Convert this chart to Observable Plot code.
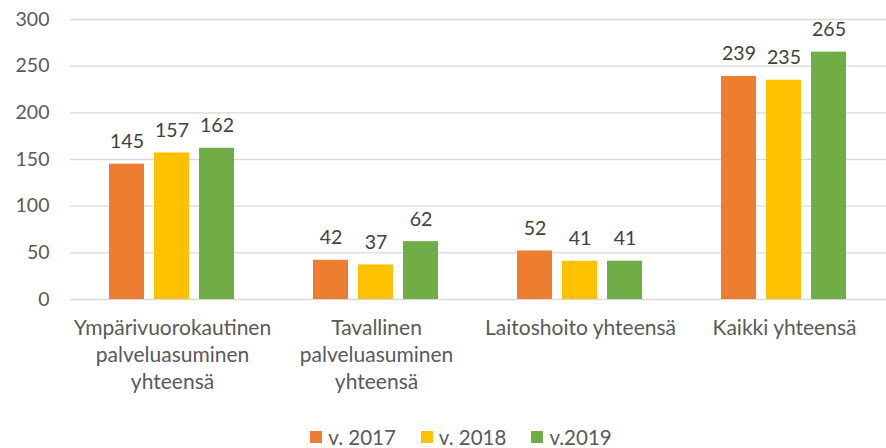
<!DOCTYPE html>
<html>
<head>
<meta charset="utf-8">
<script src="https://cdn.jsdelivr.net/npm/d3@7"></script>
<script src="https://cdn.jsdelivr.net/npm/@observablehq/plot@0.6"></script>
<style>
  html, body { margin: 0; padding: 0; background: #fff; }
  #chart { width: 886px; height: 448px; overflow: hidden; font-family: Lato, sans-serif; color: #595959; }
  .lg { display: flex; justify-content: center; margin-top: 14px; margin-left: 61px; font-size: 20.5px; color: #595959; font-family: Lato, sans-serif; }
  .lg .lg-swatch { margin-right: 25px !important; }
  .lg .lg-swatch svg { margin-right: 6px !important; }
</style>
</head>
<body>
<div id="chart"></div>
<script>
const categories = [
  "Ympärivuorokautinen\npalveluasuminen\nyhteensä",
  "Tavallinen\npalveluasuminen\nyhteensä",
  "Laitoshoito yhteensä",
  "Kaikki yhteensä"
];
const series = ["v. 2017", "v. 2018", "v.2019"];
const v2017 = [145, 42, 52, 239];
const v2018 = [157, 37, 41, 235];
const v2019 = [162, 62, 41, 265];
const yTicks = [0, 50, 100, 150, 200, 250, 300];
const colors = ["#ED7D31", "#FFC000", "#70AD47"];

const values = [v2017, v2018, v2019];
const data = [];
categories.forEach((c, i) => {
  series.forEach((s, j) => data.push({category: c, series: s, value: values[j][i]}));
});

const chart = Plot.plot({
  width: 886,
  height: 406,
  marginLeft: 70,
  marginRight: 0,
  marginTop: 19,
  marginBottom: 107,
  style: {fontFamily: "Lato, sans-serif", fontSize: "19px", color: "#595959", background: "#fff"},
  fx: {domain: categories, padding: 0, label: null, axis: null},
  x: {domain: series, paddingInner: 0.22, paddingOuter: 0.85, axis: null},
  y: {domain: [0, 300], label: null, axis: null},
  color: {domain: series, range: colors},
  marks: [
    Plot.ruleY(yTicks, {stroke: "#d9d9d9", strokeWidth: 1.3}),
    Plot.axisY({ticks: yTicks, tickSize: 0, tickPadding: 21, label: null, fill: "#595959", fontSize: 19.5, facetAnchor: "left"}),
    Plot.barY(data, {fx: "category", x: "series", y: "value", fill: "series"}),
    Plot.text(data, {fx: "category", x: "series", y: "value", text: d => String(d.value), lineAnchor: "bottom", dy: -16, fill: "#404040", fontSize: 19.5}),
    Plot.axisFx({tickSize: 0, tickPadding: 17, label: null, lineHeight: 1.27, fill: "#595959", fontSize: 21, anchor: "bottom"})
  ]
});
document.getElementById("chart").appendChild(chart);

const legend = Plot.legend({
  color: {domain: series, range: colors},
  swatchSize: 12,
  className: "lg"
});
legend.classList.add("lg");
legend.querySelectorAll("span").forEach(s => { if (s.querySelector("svg")) s.classList.add("lg-swatch"); });
document.getElementById("chart").appendChild(legend);
</script>
</body>
</html>
